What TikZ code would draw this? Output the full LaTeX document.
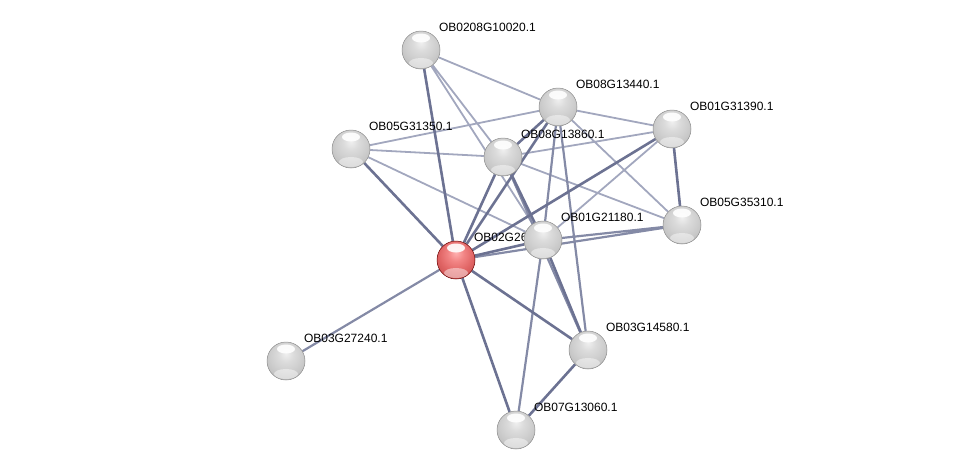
\documentclass[tikz,border=0pt]{standalone}
\usepackage{fontspec}
\setmainfont{Liberation Sans}
\usetikzlibrary{backgrounds}
\definecolor{strongedge}{RGB}{108,114,146}
\definecolor{midedge}{RGB}{132,138,166}
\definecolor{weakedge}{RGB}{162,167,190}
\pgfdeclareradialshading{greysphere}{\pgfpoint{0bp}{10bp}}{%
  color(0bp)=(black!6); color(10bp)=(black!14); color(22bp)=(black!20);
  color(32bp)=(black!26); color(40bp)=(black!38); color(50bp)=(black!55);
  color(70bp)=(black!55)}
\pgfdeclareradialshading{redsphere}{\pgfpoint{0bp}{10bp}}{%
  color(0bp)=(red!30!white); color(10bp)=(red!45!white!95!black); color(22bp)=(red!55!white!88!black);
  color(32bp)=(red!60!white!80!black); color(40bp)=(red!60!black!75); color(50bp)=(red!45!black);
  color(70bp)=(red!45!black)}

\begin{document}
\begin{tikzpicture}[
  x=1pt,y=-1pt,
  font=\fontsize{12}{14}\selectfont,
  strong/.style={line width=2.6pt,draw=strongedge},
  medium/.style={line width=2.2pt,draw=midedge},
  weak/.style={line width=1.8pt,draw=weakedge},
  gene/.style={circle,minimum size=38pt,inner sep=0pt,shading=greysphere,
    draw=black!45,line width=0.5pt,
    path picture={
      \fill[white,opacity=0.9] ([yshift=-7pt]path picture bounding box.north)
        ellipse [x radius=9pt,y radius=4.5pt];
      \fill[white,opacity=0.45] ([yshift=6pt]path picture bounding box.south)
        ellipse [x radius=12pt,y radius=5pt];
    },
    label={[inner sep=0pt,label distance=6pt]45:#1}},
  hub/.style={shading=redsphere,draw=red!40!black}
]
\useasboundingbox (0,0) rectangle (975,475);

\node[gene=OB0208G10020.1] (a) at (421,50) {};
\node[gene=OB08G13440.1] (b) at (558,107) {};
\node[gene=OB01G31390.1] (c) at (672,129) {};
\node[gene=OB05G31350.1] (d) at (351,149) {};
\node[gene=OB08G13860.1] (e) at (503,157) {};
\node[gene=OB05G35310.1] (f) at (682,225) {};
\node[gene=OB02G26,hub] (r) at (456,260) {};
\node[gene=OB01G21180.1] (g) at (543,240) {};
\node[gene=OB03G27240.1] (h) at (286,361) {};
\node[gene=OB03G14580.1] (i) at (588,350) {};
\node[gene=OB07G13060.1] (j) at (516,430) {};

% edges sit behind the spheres
\begin{scope}[on background layer]
\draw[weak] (a) -- (b) (a) -- (e) (a) -- (g)
  (d) -- (b) (d) -- (e) (d) -- (g)
  (e) -- (c) (e) -- (f) (b) -- (c) (b) -- (f) (c) -- (g);
\draw[medium] (r) -- (h) (e) -- (i) (b) -- (i) (b) -- (g)
  (g) -- (j) (f) -- (g) (r) -- (f);
\draw[strong] (r) -- (a) (r) -- (d) (r) -- (e) (r) -- (b)
  (r) -- (c) (r) -- (g) (r) -- (i) (r) -- (j)
  (e) -- (b) (e) -- (g) (c) -- (f) (g) -- (i) (i) -- (j);
\end{scope}
\end{tikzpicture}
\end{document}
